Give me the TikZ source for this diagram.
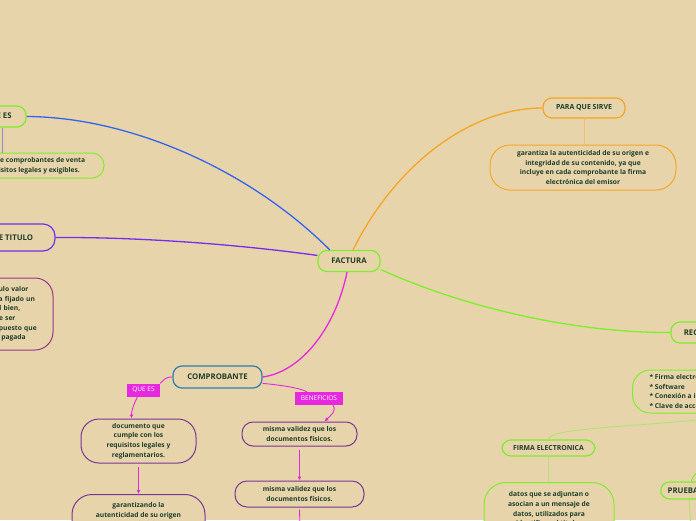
\documentclass[tikz,border=0pt]{standalone}
\usepackage{fontspec}
\setmainfont{Open Sans}
\usetikzlibrary{arrows.meta}

\definecolor{bgc}{RGB}{232,212,170}
\definecolor{ink}{RGB}{30,62,42}
\definecolor{lime}{RGB}{125,238,45}
\definecolor{limelt}{RGB}{175,228,115}
\definecolor{blu}{RGB}{50,100,240}
\definecolor{bluelt}{RGB}{140,150,190}
\definecolor{vio}{RGB}{115,45,235}
\definecolor{orng}{RGB}{245,165,40}
\definecolor{orngl}{RGB}{242,192,120}
\definecolor{mag}{RGB}{230,40,225}
\definecolor{tealb}{RGB}{45,125,175}
\definecolor{purp}{RGB}{120,55,150}
\definecolor{plum}{RGB}{150,55,135}

\begin{document}
\begin{tikzpicture}[x=1pt, y=-1pt,
  topic/.style={draw, line width=1.2pt, rounded corners=9pt, fill=bgc, text=ink,
    font=\bfseries\fontsize{7.8}{9}\selectfont, inner sep=2pt, minimum height=21pt},
  idea/.style={draw, line width=1pt, rounded corners=14pt, fill=bgc, text=ink,
    font=\bfseries\fontsize{6.7}{9.6}\selectfont, align=center, inner sep=3pt},
  tag/.style={fill=mag, text=white, font=\fontsize{6.5}{8}\selectfont,
    inner sep=2pt, minimum height=13pt},
  branch/.style={line width=1.3pt},
  stem/.style={line width=0.9pt},
  ar/.style={-{Latex[length=4pt,width=4pt]}, line width=0.9pt, draw=mag}]

  \useasboundingbox (0,0) rectangle (696,520);
  \clip (0,0) rectangle (696,520);
  \fill[bgc] (0,0) rectangle (696,520);

  % centre
  \node[topic, draw=lime, minimum width=62pt] (fact) at (349,261) {FACTURA};

  % izquierda, cortadas por el borde
  \node[topic, draw=lime, minimum width=56pt] (qes) at (-2,116.5) {QUE ES};
  \node[idea, draw=lime, minimum width=190pt, minimum height=25pt, rounded corners=12pt]
    (qesdef) at (9,165.5) {Es uno de los tipos de comprobantes de venta\\que cumplen requisitos legales y exigibles.};
  \node[topic, draw=vio, minimum width=120pt, minimum height=27pt, rounded corners=12pt]
    (tit) at (-5,237.5) {CALIDAD DE TITULO};
  \node[idea, draw=plum, text width=138pt, minimum height=72pt, rounded corners=18pt]
    (titdef) at (-19,314) {La factura es un titulo valor\\en el que el emisor ha fijado un\\el precio total del bien,\\el cual tiene que ser\\cobrado o cancelado, puesto que\\todavía no ha sido pagada};

  % arriba derecha
  \node[topic, draw=orng, minimum width=82pt, minimum height=20pt,
    font=\bfseries\fontsize{7}{8}\selectfont] (sirve) at (584,108) {PARA QUE SIRVE};
  \node[idea, draw=orng, minimum width=186pt, minimum height=45pt, rounded corners=20pt]
    (sirvedef) at (583,167.5) {garantiza la autenticidad de su origen e\\integridad de su contenido, ya que\\incluye en cada comprobante la firma\\electrónica del emisor};

  % comprobante
  \node[topic, draw=tealb, minimum width=89pt, minimum height=22pt] (comp) at (217.5,377) {COMPROBANTE};
  \node[tag, minimum width=33pt] (tqes) at (143.5,390) {QUE ES};
  \node[tag, minimum width=48pt] (tben) at (319,398.5) {BENEFICIOS};
  \node[idea, draw=purp, minimum width=115pt, minimum height=44pt, rounded corners=18pt]
    (doc) at (138.5,441) {documento que\\cumple con los\\requisitos legales y\\reglamentarios.};
  \node[idea, draw=purp, minimum width=133pt, minimum height=50pt, rounded corners=20pt, anchor=north]
    (gar) at (138.5,494) {garantizando la\\autenticidad de su origen\\e integridad de su\\contenido.};
  \node[idea, draw=purp, minimum width=115pt, minimum height=24pt, rounded corners=11pt]
    (val1) at (299.5,434) {misma validez que los\\documentos físicos.};
  \node[idea, draw=purp, minimum width=129pt, minimum height=26pt, rounded corners=12pt]
    (val2) at (299.5,494) {misma validez que los\\documentos físicos.};

  % derecha
  \node[topic, draw=lime, minimum width=66pt] (rec) at (704,332.5) {RECURSOS};
  \node[idea, draw=lime, align=left, anchor=west, inner xsep=17pt, minimum height=43pt,
    rounded corners=18pt] (recl) at (632,391.5)
    {* Firma electrónica\\* Software\\* Conexión a internet\\* Clave de acceso};
  \node[topic, draw=lime, minimum width=93pt, minimum height=16pt,
    font=\bfseries\fontsize{6.9}{8}\selectfont] (firma) at (548.5,448) {FIRMA ELECTRONICA};
  \node[idea, draw=lime, minimum width=130pt, minimum height=62pt, rounded corners=22pt, anchor=north]
    (datos) at (549,482) {datos que se adjuntan o\\asocian a un mensaje de\\datos, utilizados para\\identificar al titular\\de la firma};
  \node[topic, draw=lime, minimum height=17pt, inner xsep=7pt, anchor=west] (prueb) at (660,490.5) {PRUEBAS};

  \coordinate (recout) at (730,417);
  \coordinate (prbin) at (715,462);
  \coordinate (prbout) at (691,530);
  \coordinate (valend) at (300,530);

  % ramas principales
  \draw[branch, draw=blu] (qes.east) .. controls (130,117) and (250,170) .. (fact.150);
  \draw[branch, draw=vio] (tit.east) .. controls (150,237) and (250,246) .. (fact.170);
  \draw[branch, draw=orng] (fact.70) .. controls (395,165) and (470,108) .. (sirve.west);
  \draw[branch, draw=lime] (fact.-15) .. controls (470,310) and (580,333) .. (rec.west);
  \draw[branch, draw=mag] (fact.-100) .. controls (335,330) and (300,372) .. (comp.east);

  % hijos
  \draw[stem, draw=bluelt] ([xshift=4pt]qes.south) -- (2,0 |- qesdef.north);
  \draw[stem, draw=orngl] (sirve.south) -- (sirve.south |- sirvedef.north);
  \draw[stem, draw=mag] (comp.west) .. controls +(-8,0) and +(4,-3) .. (tqes.north east);
  \draw[ar] ([xshift=-6pt]tqes.south) .. controls +(-4,8) and +(0,-8) .. ([xshift=-7pt]doc.north);
  \draw[stem, draw=mag] (comp.-8) .. controls +(20,2) and +(-8,-4) .. ([xshift=-12pt]tben.north);
  \draw[ar] ([xshift=14pt]tben.south) .. controls +(4,6) and +(6,-6) .. ([xshift=25pt]val1.north);
  \draw[ar, shorten <=3pt] (doc.south) -- (gar.north);
  \draw[ar, shorten <=3pt] (val1.south) -- (val2.north);
  \draw[stem, draw=mag, shorten <=2pt] (val2.south) -- (valend);

  \draw[stem, draw=limelt] (recout) .. controls (620,428) and (550,428) .. (firma.north);
  \draw[stem, draw=limelt] (firma.south) -- (firma.south |- datos.north);
  \draw[stem, draw=lime] (prbin) .. controls (700,468) and (693,475) .. ([xshift=6pt]prueb.north);
  \draw[stem, draw=limelt] ([xshift=4pt]prueb.south) -- (prbout);
\end{tikzpicture}
\end{document}
